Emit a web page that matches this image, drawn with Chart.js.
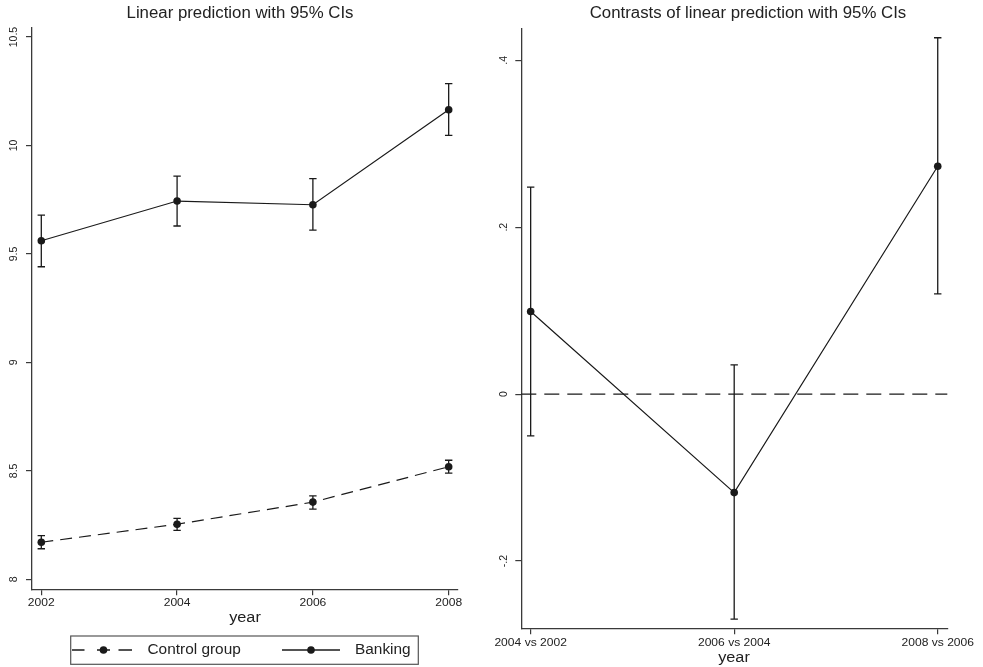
<!DOCTYPE html>
<html>
<head>
<meta charset="utf-8">
<script src="https://cdn.jsdelivr.net/npm/chart.js@4.4.0/dist/chart.umd.min.js"></script>
<style>
  body { margin: 0; background: #fff; }
  canvas { position: absolute; top: 0; }
  #left { left: 0; }
  #right { left: 480px; }
</style>
</head>
<body>
<canvas id="left" width="480" height="667"></canvas>
<canvas id="right" width="503" height="667"></canvas>
<script>
// data
const years = [2002, 2004, 2006, 2008];
const control = [8.171, 8.254, 8.356, 8.519];
const controlLo = [8.141, 8.226, 8.324, 8.490];
const controlHi = [8.201, 8.281, 8.385, 8.549];
const banking = [9.561, 9.744, 9.727, 10.165];
const bankingLo = [9.441, 9.629, 9.610, 10.047];
const bankingHi = [9.679, 9.859, 9.847, 10.285];
const leftTicks = [8, 8.5, 9, 9.5, 10, 10.5];
const leftTickLabels = ["8", "8.5", "9", "9.5", "10", "10.5"];

const contrasts = ["2004 vs 2002", "2006 vs 2004", "2008 vs 2006"];
const diff = [0.099, -0.118, 0.273];
const diffLo = [-0.050, -0.2695, 0.120];
const diffHi = [0.248, 0.035, 0.427];
const rightTicks = [-0.2, 0, 0.2, 0.4];
const rightTickLabels = ["-.2", "0", ".2", ".4"];

const INK = "#1a1a1a";
const AXIS = "#3a3a3a";
const FONT = "'Liberation Sans', Arial, sans-serif";

// text helper, k = horizontal stretch
function txt(ctx, s, x, y, size, align, k, rot) {
  ctx.save();
  ctx.translate(x, y);
  if (rot) ctx.rotate(rot);
  ctx.scale(k || 1, 1);
  ctx.font = size + "px " + FONT;
  ctx.fillStyle = "#222";
  ctx.textAlign = align || "center";
  ctx.textBaseline = "middle";
  ctx.fillText(s, 0, 0);
  ctx.restore();
}

// error bars (drawn from the dataset lo/hi arrays)
const errBars = {
  id: "errBars",
  beforeDatasetsDraw(chart) {
    const ctx = chart.ctx, xs = chart.scales.x, ys = chart.scales.y;
    chart.data.datasets.forEach(ds => {
      if (!ds.lo) return;
      ctx.save();
      ctx.strokeStyle = INK;
      ctx.lineWidth = 1.3;
      ds.data.forEach((p, i) => {
        const x = xs.getPixelForValue(p.x);
        const y1 = ys.getPixelForValue(ds.lo[i]);
        const y2 = ys.getPixelForValue(ds.hi[i]);
        ctx.beginPath();
        ctx.moveTo(x, y1); ctx.lineTo(x, y2);
        ctx.moveTo(x - 3.7, y1); ctx.lineTo(x + 3.7, y1);
        ctx.moveTo(x - 3.7, y2); ctx.lineTo(x + 3.7, y2);
        ctx.stroke();
      });
      ctx.restore();
    });
  }
};

// labels, titles, legend
const deco = {
  id: "deco",
  afterDraw(chart) {
    const o = chart.options.plugins.deco;
    const ctx = chart.ctx, xs = chart.scales.x, ys = chart.scales.y;
    o.yTicks.forEach((v, i) => {
      txt(ctx, o.yLabels[i], o.yLabelX, ys.getPixelForValue(v), 10.5, "center", 1, -Math.PI / 2);
    });
    o.xTicks.forEach((v, i) => {
      txt(ctx, o.xLabels[i], xs.getPixelForValue(v), o.xLabelY, 11.5, "center", 1.05);
    });
    txt(ctx, o.title, o.titleX, 14, 16, "center", 1.05);
    txt(ctx, "year", o.yearX, o.yearY, 15.5, "center", 1.05);
    if (o.zeroLine) {
      const y = ys.getPixelForValue(0);
      ctx.save();
      ctx.strokeStyle = INK; ctx.lineWidth = 1.2;
      ctx.setLineDash([15, 8]);
      ctx.beginPath();
      ctx.moveTo(chart.chartArea.left, y); ctx.lineTo(chart.chartArea.right, y);
      ctx.stroke();
      ctx.restore();
    }
    if (o.legend) {
      ctx.save();
      ctx.strokeStyle = "#555"; ctx.lineWidth = 1.2;
      ctx.strokeRect(70.7, 636, 347.6, 28.3);
      ctx.strokeStyle = INK; ctx.fillStyle = INK; ctx.lineWidth = 1.3;
      const ly = 650;
      ctx.beginPath();
      ctx.moveTo(72, ly); ctx.lineTo(84.5, ly);
      ctx.moveTo(97, ly); ctx.lineTo(110, ly);
      ctx.moveTo(118.5, ly); ctx.lineTo(132, ly);
      ctx.stroke();
      ctx.beginPath(); ctx.arc(103.5, ly, 3.8, 0, Math.PI * 2); ctx.fill();
      ctx.beginPath(); ctx.moveTo(282, ly); ctx.lineTo(340, ly); ctx.stroke();
      ctx.beginPath(); ctx.arc(311, ly, 3.8, 0, Math.PI * 2); ctx.fill();
      ctx.restore();
      txt(ctx, "Control group", 147.5, ly, 14, "left", 1.1);
      txt(ctx, "Banking", 355, ly, 14, "left", 1.1);
    }
  }
};

function yAxis(min, max, ticks, width) {
  return {
    type: "linear", min: min, max: max,
    afterBuildTicks: s => { s.ticks = ticks.map(v => ({ value: v })); },
    afterFit: s => { s.width = width; },
    ticks: { display: false },
    grid: { drawOnChartArea: false, drawTicks: true, tickLength: 6, color: AXIS, lineWidth: 1.2 },
    border: { display: true, color: AXIS, width: 1.3 }
  };
}
function xAxis(min, max, ticks, height) {
  return {
    type: "linear", min: min, max: max,
    afterBuildTicks: s => { s.ticks = ticks.map(v => ({ value: v })); },
    afterFit: s => { s.height = height; },
    ticks: { display: false },
    grid: { drawOnChartArea: false, drawTicks: true, tickLength: 6, color: AXIS, lineWidth: 1.2 },
    border: { display: true, color: AXIS, width: 1.3 }
  };
}
function series(label, vals, lo, hi, xv, dash) {
  return {
    label: label,
    data: vals.map((v, i) => ({ x: xv[i], y: v })),
    lo: lo, hi: hi,
    borderColor: INK, backgroundColor: INK, borderWidth: 1.2,
    borderDash: dash || [],
    pointRadius: 3.8, pointBorderWidth: 0, pointBackgroundColor: INK,
    tension: 0
  };
}

new Chart(document.getElementById("left"), {
  type: "line",
  data: {
    datasets: [
      series("Control group", control, controlLo, controlHi, years, [12, 7]),
      series("Banking", banking, bankingLo, bankingHi, years)
    ]
  },
  options: {
    responsive: false, animation: false, devicePixelRatio: 1,
    layout: { padding: { left: 0, top: 27.3, right: 22.7, bottom: 0 } },
    scales: {
      x: xAxis(2001.863, 2008.127, years, 667 - 589.3),
      y: yAxis(7.954, 10.545, leftTicks, 32)
    },
    plugins: {
      legend: { display: false }, tooltip: { enabled: false },
      deco: {
        yTicks: leftTicks, yLabels: leftTickLabels, yLabelX: 14,
        xTicks: years, xLabels: years.map(String), xLabelY: 603,
        title: "Linear prediction with 95% CIs", titleX: 240,
        yearX: 245, yearY: 618, legend: true
      }
    }
  },
  plugins: [errBars, deco]
});

const idx = contrasts.map((c, i) => i);
new Chart(document.getElementById("right"), {
  type: "line",
  data: {
    datasets: [series("Contrast", diff, diffLo, diffHi, idx)]
  },
  options: {
    responsive: false, animation: false, devicePixelRatio: 1,
    layout: { padding: { left: 0, top: 28.3, right: 35.7, bottom: 0 } },
    scales: {
      x: xAxis(-0.046, 2.047, idx, 667 - 628.3),
      y: yAxis(-0.2806, 0.4383, rightTicks, 41.3)
    },
    plugins: {
      legend: { display: false }, tooltip: { enabled: false },
      deco: {
        yTicks: rightTicks, yLabels: rightTickLabels, yLabelX: 24,
        xTicks: idx, xLabels: contrasts, xLabelY: 643,
        title: "Contrasts of linear prediction with 95% CIs", titleX: 268,
        yearX: 254, yearY: 658, zeroLine: true
      }
    }
  },
  plugins: [errBars, deco]
});
</script>
</body>
</html>
